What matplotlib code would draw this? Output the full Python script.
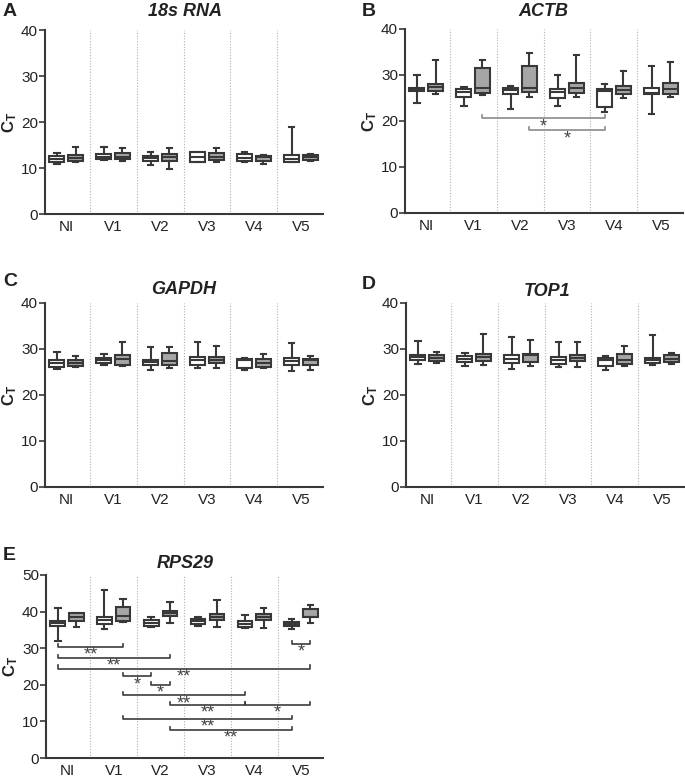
import matplotlib
matplotlib.use('Agg')
import matplotlib.pyplot as plt
import numpy as np

plt.rcParams['font.family'] = ['Liberation Sans', 'DejaVu Sans']
plt.rcParams['mathtext.fontset'] = 'custom'
plt.rcParams['mathtext.rm'] = 'Liberation Sans'
plt.rcParams['mathtext.bf'] = 'Liberation Sans:bold'

groups = ['NI', 'V1', 'V2', 'V3', 'V4', 'V5']

# each box: (whisker low, Q1, median, Q3, whisker high)
rna_white = [(10.8, 11.4, 12.0, 12.7, 13.2), (11.7, 11.9, 12.5, 13.0, 14.6),
             (10.7, 11.5, 12.1, 12.7, 13.5), (11.2, 11.3, 12.5, 13.4, 13.5),
             (11.2, 11.5, 12.2, 13.0, 13.5), (11.3, 11.4, 12.0, 12.8, 19.0)]
rna_grey = [(11.3, 11.5, 12.2, 12.8, 14.6), (11.5, 11.9, 12.5, 13.3, 14.3),
            (9.8, 11.5, 12.3, 13.1, 14.3), (11.3, 11.8, 12.5, 13.2, 14.3),
            (10.8, 11.5, 12.3, 12.7, 12.9), (11.5, 11.8, 12.3, 12.8, 13.0)]

actb_white = [(24.0, 26.5, 26.9, 27.2, 29.9), (23.3, 25.3, 26.2, 27.0, 27.4),
              (22.5, 25.8, 26.7, 27.2, 27.6), (23.3, 24.9, 26.3, 27.0, 30.1),
              (22.0, 23.1, 26.5, 26.9, 28.1), (21.6, 25.8, 26.0, 27.2, 32.0)]
actb_grey = [(25.9, 26.5, 27.3, 28.0, 33.3), (25.7, 26.0, 27.2, 31.5, 33.3),
             (25.3, 26.4, 27.1, 31.9, 34.8), (25.3, 26.0, 27.1, 28.3, 34.3),
             (25.0, 25.9, 26.8, 27.5, 30.9), (25.3, 25.9, 26.9, 28.3, 32.8)]

gapdh_white = [(25.7, 26.0, 26.9, 27.6, 29.4), (26.6, 27.0, 27.6, 28.0, 29.0),
               (25.5, 26.5, 27.2, 27.7, 30.4), (25.8, 26.5, 27.6, 28.3, 31.5),
               (25.4, 25.9, 27.6, 27.8, 28.0), (25.2, 26.5, 27.4, 28.0, 31.2)]
gapdh_grey = [(26.0, 26.2, 26.9, 27.5, 28.4), (26.3, 26.5, 27.8, 28.6, 31.5),
              (25.8, 26.5, 27.3, 29.1, 30.5), (25.8, 26.9, 27.5, 28.3, 30.6),
              (25.8, 26.0, 27.0, 27.8, 28.9), (25.4, 26.5, 27.7, 27.9, 28.5)]

top1_white = [(26.8, 27.7, 28.2, 28.8, 31.7), (26.4, 27.1, 27.8, 28.4, 29.1),
              (25.7, 27.0, 27.8, 28.6, 32.5), (26.1, 26.8, 27.7, 28.3, 31.5),
              (25.4, 26.2, 27.7, 28.1, 28.4), (26.5, 26.9, 27.6, 28.1, 33.0)]
top1_grey = [(27.0, 27.3, 28.0, 28.6, 29.4), (26.5, 27.3, 28.2, 29.0, 33.3),
             (26.2, 27.2, 28.8, 28.9, 31.9), (26.1, 27.3, 28.1, 28.6, 31.5),
             (26.3, 26.7, 27.6, 28.9, 30.7), (26.7, 27.2, 27.9, 28.6, 29.2)]

rps29_white = [(32.1, 36.2, 36.8, 37.5, 40.9), (35.3, 36.6, 37.6, 38.4, 45.8),
               (35.7, 36.1, 36.9, 37.8, 38.4), (36.0, 36.6, 37.4, 37.9, 38.6),
               (35.5, 35.9, 36.7, 37.4, 39.1), (35.2, 36.0, 36.6, 37.1, 37.9)]
rps29_grey = [(35.9, 37.5, 38.6, 39.5, 39.7), (37.1, 37.5, 38.7, 41.3, 43.5),
              (37.0, 38.9, 39.6, 40.2, 42.5), (35.9, 37.6, 38.5, 39.3, 43.3),
              (35.4, 37.8, 38.6, 39.4, 41.1), (37.0, 38.4, 38.6, 40.7, 41.8)]

# significance brackets: (group, box), (group, box), height, label
actb_sig = [((1, 1), (4, 0), 20.6, '*'),
            ((2, 1), (4, 0), 18.0, '*')]
rps29_sig = [((0, 0), (1, 1), 30.3, '**'),
             ((0, 0), (2, 1), 27.3, '**'),
             ((0, 0), (5, 1), 24.4, '**'),
             ((1, 1), (2, 0), 22.3, '*'),
             ((2, 0), (2, 1), 20.0, '*'),
             ((1, 1), (4, 0), 17.1, '**'),
             ((2, 1), (4, 0), 14.5, '**'),
             ((4, 0), (5, 1), 14.5, '*'),
             ((1, 1), (5, 0), 10.7, '**'),
             ((2, 1), (5, 0), 7.7, '**'),
             ((5, 0), (5, 1), 31.2, '*')]

W, H = 685, 780
EDGE = '#383838'
OFFSET = 0.2


def to_stats(boxes):
    return [{'whislo': b[0], 'q1': b[1], 'med': b[2], 'q3': b[3],
             'whishi': b[4], 'fliers': []} for b in boxes]


def box_x(gb):
    g, b = gb
    return g + (OFFSET if b else -OFFSET)


def draw_panel(rect, white, grey, ymax, sig=None, sig_color='#888888'):
    l, t, r, bt = rect
    ax = fig.add_axes([l / W, 1 - bt / H, (r - l) / W, (bt - t) / H])
    x = np.arange(len(groups))
    for data, fill, pos in [(white, 'white', x - OFFSET), (grey, '#a6a6a6', x + OFFSET)]:
        ax.bxp(to_stats(data), positions=pos, widths=0.31, capwidths=0.12,
               patch_artist=True, showfliers=False, manage_ticks=False,
               boxprops=dict(facecolor=fill, edgecolor=EDGE, linewidth=1.5),
               whiskerprops=dict(color=EDGE, linewidth=1.5),
               capprops=dict(color=EDGE, linewidth=1.5),
               medianprops=dict(color=EDGE, linewidth=1.5))
    for xv in x[:-1] + 0.5:
        ax.plot([xv, xv], [0, ymax], ls=(0, (1, 1.5)), color='#b0b0b0', lw=0.8, zorder=0)
    if sig:
        for a, b, y, lab in sig:
            x1, x2 = box_x(a), box_x(b)
            tick = ymax * 0.018
            ax.plot([x1, x1, x2, x2], [y + tick, y, y, y + tick], color=sig_color, lw=1.2)
            # star glyph sits high in its box, so push the text down in points
            ax.annotate(lab, ((x1 + x2) / 2, y), xytext=(0, -6),
                        textcoords='offset points', ha='center', va='center',
                        fontsize=13, color='#444444')
    ax.set_xlim(-0.45, 5.47)
    ax.set_ylim(0, ymax)
    ax.set_yticks(np.arange(0, ymax + 1, 10))
    ax.set_xticks(x)
    ax.set_xticklabels(groups)
    for s in ['top', 'right']:
        ax.spines[s].set_visible(False)
    for s in ['left', 'bottom']:
        ax.spines[s].set_color(EDGE)
        ax.spines[s].set_linewidth(1.5)
    ax.tick_params(axis='y', length=4, width=1.2, color=EDGE, pad=1,
                   labelsize=11, labelcolor='#222222')
    ax.tick_params(axis='x', length=0, pad=4, labelsize=11, labelcolor='#222222')
    ax.set_ylabel(r'$\mathbf{C_T}$', fontsize=12, color='#222222')
    ax.yaxis.set_label_coords(-0.095, 0.5)
    return ax


def label(x, y, txt, **kw):
    fig.text(x / W, 1 - y / H, txt, va='center', **kw)


fig = plt.figure(figsize=(6.85, 7.8), dpi=100)

draw_panel((45, 30, 323, 214), rna_white, rna_grey, 40)
draw_panel((405, 29, 683, 213), actb_white, actb_grey, 40, actb_sig, '#8a8a8a')
draw_panel((45, 303, 323, 487), gapdh_white, gapdh_grey, 40)
draw_panel((406, 303, 684, 487), top1_white, top1_grey, 40)
draw_panel((46, 575, 323, 758), rps29_white, rps29_grey, 50, rps29_sig, '#3c3c3c')

titles = [('A', 3, 11, '18s RNA', 185, 11), ('B', 362, 11, 'ACTB', 543, 11),
          ('C', 3, 281, 'GAPDH', 184, 290), ('D', 362, 284, 'TOP1', 547, 292),
          ('E', 3, 555, 'RPS29', 185, 563)]
for let, lx, ly, tt, tx, ty in titles:
    label(lx, ly, let, fontsize=14, fontweight='bold', color='#222222', ha='left')
    label(tx, ty, tt, fontsize=13, fontweight='bold', fontstyle='italic',
          color='#222222', ha='center')

fig.savefig('out.png', dpi=100)
